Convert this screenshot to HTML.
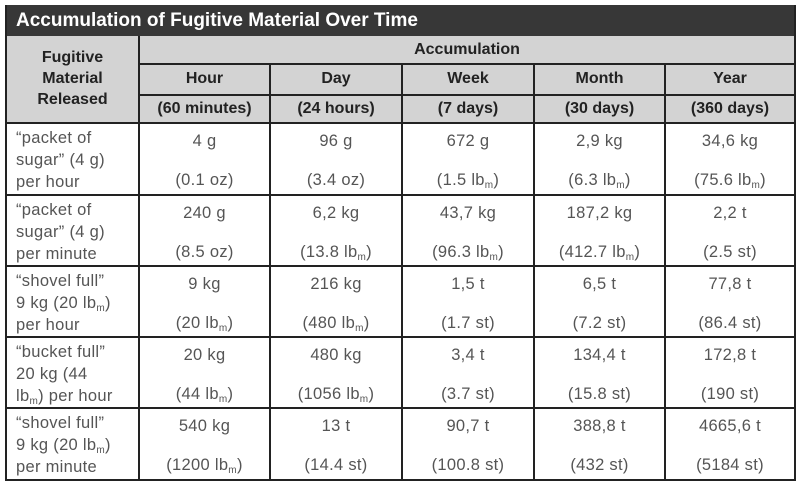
<!DOCTYPE html>
<html><head><meta charset="utf-8"><style>
body{margin:0;width:800px;height:486px;background:#fff;font-family:"Liberation Sans",Arial,sans-serif;position:relative;overflow:hidden}
.a{position:absolute}
.title{left:6px;top:5px;width:789px;height:31px;background:#373737;color:#fff;font-weight:bold;font-size:19px;line-height:31px;padding-left:10px;box-sizing:border-box}
.hdr{left:6px;top:36px;width:789px;height:87px;background:#d3d3d3}
.h{position:absolute;background:#222;height:2px}
.v{position:absolute;background:#222;width:2px}
.hc{position:absolute;text-align:center;font-weight:bold;font-size:16px;color:#222}
.dc{position:absolute;text-align:center;font-size:16.5px;color:#555;letter-spacing:0.3px}
.fc{position:absolute;font-size:16.5px;color:#555;line-height:22px;letter-spacing:0.3px}
sub{font-size:10px;vertical-align:-3px;line-height:0}
</style></head><body>
<div class="a title">Accumulation of Fugitive Material Over Time</div>
<div class="a hdr"></div>
<div id="grid"></div>
<div class="hc" style="left:6px;width:133px;top:47px;line-height:21px">Fugitive<br>Material<br>Released</div>
<div class="hc" style="left:139px;width:656px;top:41px">Accumulation</div>
<div id="cells"></div>
<script>
const cols=[139,270,402,534,665,795];
const rows=[123,195,266,337,408,480];
const g=document.getElementById('grid');
function line(cls,style,name){const d=document.createElement('div');d.className=cls;d.style.cssText=style;


g.appendChild(d);}
line('v','left:5px;top:5px;height:476px','border-left');
line('v','left:794px;top:5px;height:476px','border-right');
line('h','left:5px;top:479px;width:791px','border-bottom');
line('v','left:138px;top:36px;height:444px','col-line');
for(let i=1;i<5;i++)line('v','left:'+(cols[i]-1)+'px;top:64px;height:416px','col-line');
line('h','left:139px;top:63px;width:656px','row-line');
line('h','left:139px;top:94px;width:656px','row-line');
for(let i=0;i<5;i++)line('h','left:5px;top:'+(rows[i]-1)+'px;width:791px','row-line');
const periods=['Hour','Day','Week','Month','Year'];
const spans=['(60 minutes)','(24 hours)','(7 days)','(30 days)','(360 days)'];
const labels=['“packet of<br>sugar” (4 g)<br>per hour','“packet of<br>sugar” (4 g)<br>per minute','“shovel full”<br>9 kg (20 lb<sub>m</sub>)<br>per hour','“bucket full”<br>20 kg (44<br>lb<sub>m</sub>) per hour','“shovel full”<br>9 kg (20 lb<sub>m</sub>)<br>per minute'];
const metric=[['4 g','96 g','672 g','2,9 kg','34,6 kg'],['240 g','6,2 kg','43,7 kg','187,2 kg','2,2 t'],['9 kg','216 kg','1,5 t','6,5 t','77,8 t'],['20 kg','480 kg','3,4 t','134,4 t','172,8 t'],['540 kg','13 t','90,7 t','388,8 t','4665,6 t']];
const imperial=[['(0.1 oz)','(3.4 oz)','(1.5 lb<sub>m</sub>)','(6.3 lb<sub>m</sub>)','(75.6 lb<sub>m</sub>)'],['(8.5 oz)','(13.8 lb<sub>m</sub>)','(96.3 lb<sub>m</sub>)','(412.7 lb<sub>m</sub>)','(2.5 st)'],['(20 lb<sub>m</sub>)','(480 lb<sub>m</sub>)','(1.7 st)','(7.2 st)','(86.4 st)'],['(44 lb<sub>m</sub>)','(1056 lb<sub>m</sub>)','(3.7 st)','(15.8 st)','(190 st)'],['(1200 lb<sub>m</sub>)','(14.4 st)','(100.8 st)','(432 st)','(5184 st)']];
const c=document.getElementById('cells');
function cell(cls,html,l,t,w,name){const d=document.createElement('div');d.className=cls;d.innerHTML=html;d.style.left=l+'px';d.style.top=t+'px';if(w)d.style.width=w+'px';


c.appendChild(d);}
for(let j=0;j<5;j++){
 cell('hc',periods[j],cols[j],70,cols[j+1]-cols[j],'period-header');
 cell('hc',spans[j],cols[j],100,cols[j+1]-cols[j],'period-span');
}
for(let i=0;i<5;i++){
 cell('fc',labels[i],16,rows[i]+4,0,'material-label');
 for(let j=0;j<5;j++){
  cell('dc',metric[i][j],cols[j],rows[i]+9,cols[j+1]-cols[j],'metric-value');
  cell('dc',imperial[i][j],cols[j],rows[i]+48,cols[j+1]-cols[j],'imperial-value');
 }
}
</script>
</body></html>
